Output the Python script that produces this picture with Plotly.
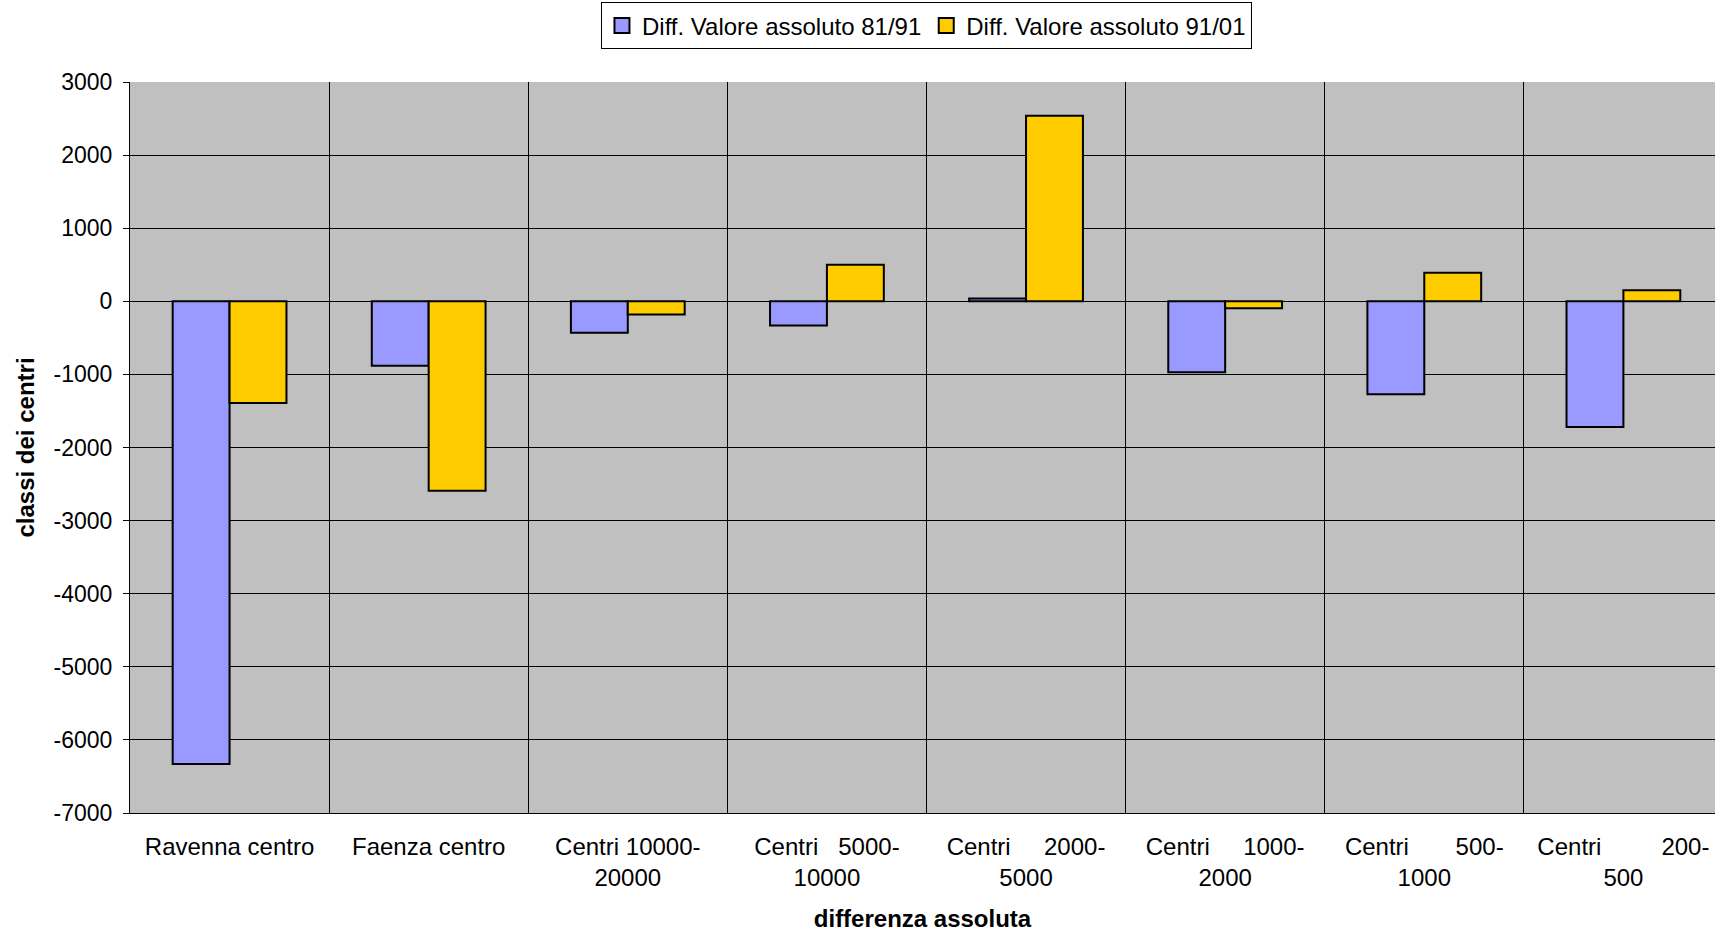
import plotly.graph_objects as go

# Category labels (non-breaking spaces keep the justified first lines)
NB = "\u00a0"
categories = [
    "Ravenna centro",
    "Faenza centro",
    "Centri 10000-<br>20000",
    "Centri" + NB * 3 + "5000-<br>10000",
    "Centri" + NB * 5 + "2000-<br>5000",
    "Centri" + NB * 5 + "1000-<br>2000",
    "Centri" + NB * 7 + "500-<br>1000",
    "Centri" + NB * 9 + "200-<br>500",
]

series_names = ["Diff. Valore assoluto 81/91", "Diff. Valore assoluto 91/01"]
diff_81_91 = [-6330, -880, -430, -330, 40, -970, -1270, -1720]
diff_91_01 = [-1390, -2590, -180, 500, 2540, -95, 390, 150]
series_colors = ["#9999FF", "#FFCC00"]

y_ticks = [3000, 2000, 1000, 0, -1000, -2000, -3000, -4000, -5000, -6000, -7000]

FONT = "Liberation Sans, Arial, sans-serif"

fig = go.Figure()
for name, values, color in zip(series_names, [diff_81_91, diff_91_01], series_colors):
    fig.add_trace(go.Bar(
        x=categories, y=values, name=name, showlegend=False,
        marker=dict(color=color, line=dict(color="black", width=2)),
    ))

# Legend entries with larger outlined square swatches
for name, color in zip(series_names, series_colors):
    fig.add_trace(go.Scatter(
        x=[None], y=[None], mode="markers", name=name,
        marker=dict(symbol="square", size=15, color=color,
                    line=dict(color="black", width=2)),
    ))

fig.update_layout(
    width=1715, height=932,
    margin=dict(l=130, r=0, t=82, b=119),
    paper_bgcolor="white",
    plot_bgcolor="#C0C0C0",
    barmode="group",
    bargap=0.4286,
    bargroupgap=0,
    font=dict(family=FONT, size=24, color="black"),
    legend=dict(
        orientation="h",
        x=0.5025, xanchor="center",
        y=1.109, yanchor="top",
        bordercolor="black", borderwidth=1,
        bgcolor="white",
        font=dict(size=24),
        itemwidth=30,
        tracegroupgap=0,
    ),
    xaxis=dict(
        type="category",
        range=[-0.5, 7.46],
        tickson="boundaries",
        ticks="",
        showgrid=True, gridcolor="black", gridwidth=1,
        showline=True, linecolor="black", linewidth=1,
        tickfont=dict(size=24),
        ticklabelstandoff=12,
        title=dict(text="<b>differenza assoluta</b>", font=dict(size=24), standoff=20),
    ),
    yaxis=dict(
        range=[-7000, 3000],
        tickvals=y_ticks,
        ticktext=[str(v) for v in y_ticks],
        ticks="outside", ticklen=6, tickcolor="black",
        showgrid=True, gridcolor="black", gridwidth=1,
        zeroline=True, zerolinecolor="black", zerolinewidth=1,
        showline=True, linecolor="black", linewidth=1,
        tickfont=dict(size=23),
        ticklabelstandoff=6,
        title=dict(text="<b>classi dei centri</b>", font=dict(size=24), standoff=12),
    ),
)

fig.write_html("out.html")
